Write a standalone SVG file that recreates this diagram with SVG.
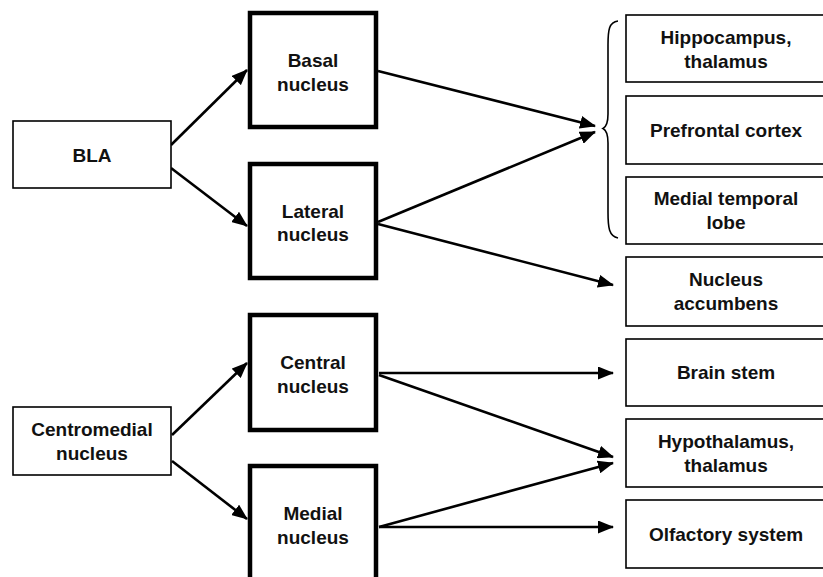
<svg xmlns="http://www.w3.org/2000/svg" width="823" height="577" viewBox="0 0 823 577">
<defs>
<style>
.thin{fill:#fff;stroke:#000;stroke-width:1.6}
.thick{fill:#fff;stroke:#000;stroke-width:4.5}
.t{font-family:"Liberation Sans",Arial,sans-serif;font-weight:bold;font-size:19px;fill:#111;text-anchor:middle}
.c{fill:none;stroke:#000;stroke-width:2.6;marker-end:url(#ah)}
</style>
<marker id="ah" markerUnits="userSpaceOnUse" markerWidth="16" markerHeight="13" refX="15" refY="6.5" orient="auto">
<path d="M0,0 L16,6.5 L0,13 z" fill="#000"/>
</marker>
</defs>
<rect width="823" height="577" fill="#fff"/>
<g id="connectors">
<line class="c" x1="171" y1="145" x2="247" y2="70"/>
<line class="c" x1="171" y1="168" x2="247" y2="226"/>
<line class="c" x1="378" y1="71" x2="595" y2="126"/>
<line class="c" x1="378" y1="222" x2="595" y2="132"/>
<line class="c" x1="378" y1="224" x2="613" y2="285"/>
<line class="c" x1="379" y1="373" x2="613" y2="373"/>
<line class="c" x1="379" y1="375" x2="613" y2="457"/>
<line class="c" x1="379" y1="527" x2="613" y2="463"/>
<line class="c" x1="379" y1="527" x2="613" y2="527"/>
<line class="c" x1="172" y1="435" x2="247" y2="363"/>
<line class="c" x1="172" y1="461" x2="247" y2="519"/>
<path id="brace" d="M618,21 C609,22 608,30 608,45 L608,114 C608,123 606,127 603,128.5 C606,130 608,134 608,143 L608,212 C608,228 609,236 618,238" fill="none" stroke="#000" stroke-width="1.6"/>
</g>
<g id="bla"><rect class="thin" x="13" y="121" width="158" height="67"/><text class="t" x="92" y="162">BLA</text></g>
<g id="centromedial"><rect class="thin" x="13" y="407" width="158" height="68"/><text class="t" x="92" y="436">Centromedial</text><text class="t" x="92" y="460">nucleus</text></g>
<g id="basal"><rect class="thick" x="250" y="13" width="126" height="114"/><text class="t" x="313" y="66.5">Basal</text><text class="t" x="313" y="90.5">nucleus</text></g>
<g id="lateral"><rect class="thick" x="250" y="164" width="126" height="114"/><text class="t" x="313" y="217.5">Lateral</text><text class="t" x="313" y="241">nucleus</text></g>
<g id="central"><rect class="thick" x="250" y="315" width="126" height="115"/><text class="t" x="313" y="368.5">Central</text><text class="t" x="313" y="392.5">nucleus</text></g>
<g id="medial"><rect class="thick" x="250" y="466" width="126" height="116"/><text class="t" x="313" y="520">Medial</text><text class="t" x="313" y="544">nucleus</text></g>
<g id="hippocampus"><rect class="thin" x="626" y="15" width="200" height="67"/><text class="t" x="726" y="43.5">Hippocampus,</text><text class="t" x="726" y="68">thalamus</text></g>
<g id="prefrontal"><rect class="thin" x="626" y="96" width="200" height="68"/><text class="t" x="726" y="137">Prefrontal cortex</text></g>
<g id="mtl"><rect class="thin" x="626" y="177" width="200" height="67"/><text class="t" x="726" y="205">Medial temporal</text><text class="t" x="726" y="229">lobe</text></g>
<g id="accumbens"><rect class="thin" x="626" y="257" width="200" height="69"/><text class="t" x="726" y="286">Nucleus</text><text class="t" x="726" y="310">accumbens</text></g>
<g id="brainstem"><rect class="thin" x="626" y="339" width="200" height="67"/><text class="t" x="726" y="379">Brain stem</text></g>
<g id="hypothalamus"><rect class="thin" x="626" y="419" width="200" height="68"/><text class="t" x="726" y="448">Hypothalamus,</text><text class="t" x="726" y="472">thalamus</text></g>
<g id="olfactory"><rect class="thin" x="626" y="500" width="200" height="68"/><text class="t" x="726" y="541">Olfactory system</text></g>
</svg>
